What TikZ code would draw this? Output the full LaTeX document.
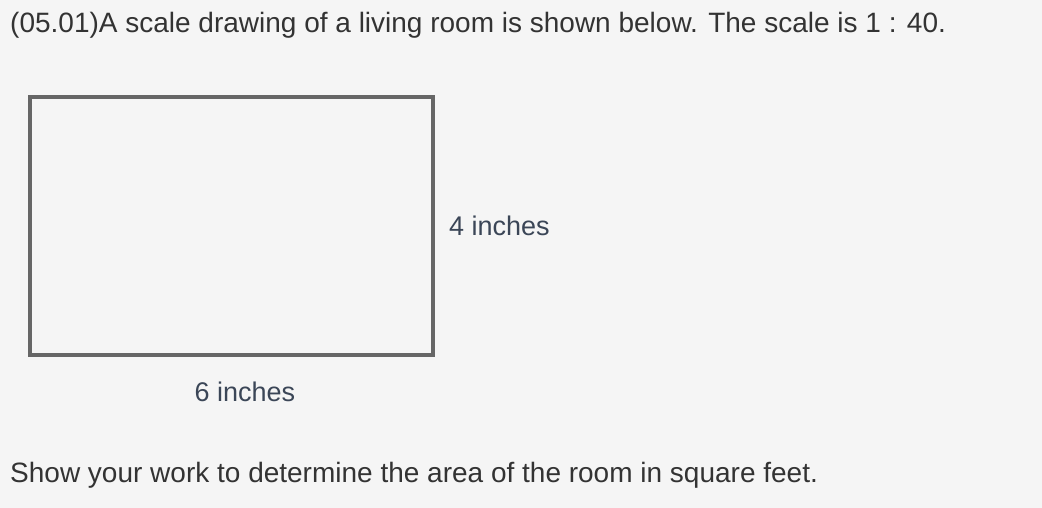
\documentclass[tikz,border=0pt]{standalone}
\usepackage{fontspec}
\setmainfont{Liberation Sans}
\usetikzlibrary{positioning}
\definecolor{bgcol}{HTML}{F5F5F5}
\definecolor{textcol}{HTML}{333333}
\definecolor{labelcol}{HTML}{3B4657}
\definecolor{wallcol}{HTML}{666666}
\tikzset{
	question/.style = {anchor=base west, inner sep=0pt, text=textcol, font=\fontsize{28}{32}\selectfont},
	room/.style = {draw=wallcol, line width=4pt, minimum width=403pt, minimum height=258pt, inner sep=0pt},
	dimlabel/.style = {inner sep=0pt, text=labelcol, font=\fontsize{27}{30}\selectfont},
}

\begin{document}
\begin{tikzpicture}[x=1pt, y=-1pt]
	
	% Background and page size
	\fill[bgcol] (0,0) rectangle (1042,508);
	\useasboundingbox (0,0) rectangle (1042,508);
	
	% Question text
	\node[question] (title) at (10,33) {(05.01)A scale drawing of a living room is shown below. The scale is 1 : 40.};
	\node[question] (task) at (10,482) {Show your work to determine the area of the room in square feet.};
	
	% Scale drawing of the room
	\node[room, anchor=north west] (room) at (28,95) {};
	
	% Dimensions
	\node[dimlabel, right=14pt of room] (height) {4 inches};
	\node[dimlabel, below=25pt of room, xshift=13.5pt] (width) {6 inches};
	
\end{tikzpicture}
\end{document}
